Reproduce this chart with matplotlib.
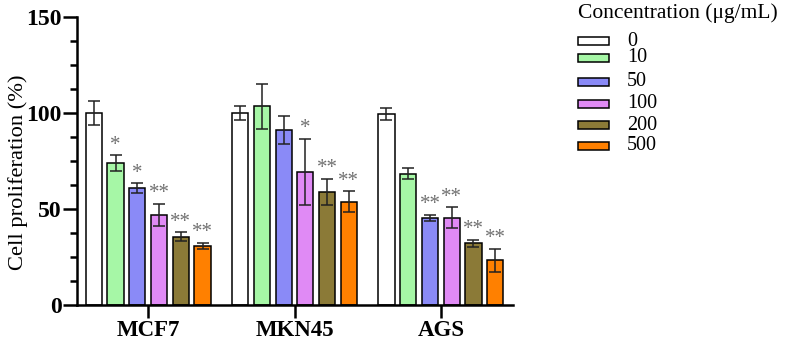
import matplotlib
matplotlib.use("Agg")
import matplotlib.pyplot as plt
from matplotlib.patches import Rectangle
from matplotlib.ticker import MultipleLocator
import numpy as np

cell_lines = ["MCF7", "MKN45", "AGS"]
concentrations = ["0", "10", "50", "100", "200", "500"]
colors = ["#ffffff", "#a6f7a6", "#8a8af7", "#e08af5", "#8b7a37", "#ff8000"]

means = {
    "MCF7":  [100.0, 74.0, 61.0, 47.0, 35.5, 30.7],
    "MKN45": [100.0, 103.5, 91.0, 69.3, 59.0, 53.8],
    "AGS":   [99.5, 68.4, 45.4, 45.4, 32.2, 23.3],
}
errors = {
    "MCF7":  [6.3, 4.0, 2.4, 5.7, 2.4, 1.7],
    "MKN45": [3.8, 11.7, 7.3, 17.3, 6.7, 5.4],
    "AGS":   [2.9, 2.8, 1.7, 5.4, 1.9, 6.1],
}
signif = {
    "MCF7":  ["", "*", "*", "**", "**", "**"],
    "MKN45": ["", "", "", "*", "**", "**"],
    "AGS":   ["", "", "**", "**", "**", "**"],
}

plt.rcParams['font.family'] = ['Liberation Serif', 'DejaVu Serif']

fig = plt.figure(figsize=(7.86, 3.45), dpi=100)
ax = fig.add_axes([0.098, 0.1159, 0.6527 - 0.098, 0.9507 - 0.1159])

pitch = 0.1486
width = 0.11
offsets = (np.arange(len(concentrations)) - 2.5) * pitch
for gi, cl in enumerate(cell_lines):
    for ci in range(len(concentrations)):
        x = gi + offsets[ci]
        m = means[cl][ci]
        e = errors[cl][ci]
        ax.bar(x, m, width=width, color=colors[ci], edgecolor="black", linewidth=1.1, zorder=2)
        ax.errorbar(x, m, yerr=e, fmt="none", ecolor="#222222", elinewidth=1.1,
                    capsize=4.2, capthick=1.1, zorder=3)
        if signif[cl][ci]:
            ax.text(x, m + e + 0.3, signif[cl][ci], ha="center", va="bottom",
                    fontsize=15, color="#707070", zorder=4)

ax.set_xlim(-0.486, 2.493)
ax.set_ylim(0, 150)
ax.set_xticks(range(len(cell_lines)))
ax.set_xticklabels(cell_lines, fontsize=16.5, fontweight="bold")
ax.set_yticks([0, 50, 100, 150])
ax.set_yticklabels(["0", "50", "100", "150"], fontsize=17, fontweight="bold")
ax.yaxis.set_minor_locator(MultipleLocator(12.5))
ax.tick_params(axis="y", which="major", direction="out", length=10, width=1.8, pad=1)
ax.tick_params(axis="y", which="minor", direction="out", length=5, width=1.8)
ax.tick_params(axis="x", which="major", direction="out", length=9, width=1.8, pad=2)
ax.set_ylabel("Cell proliferation (%)", fontsize=16.2)
ax.yaxis.set_label_coords(-0.113, 0.46)
for s in ["top", "right"]:
    ax.spines[s].set_visible(False)
for s in ["left", "bottom"]:
    ax.spines[s].set_linewidth(1.8)

# Legend
W, H = 786.0, 345.0
fig.text(578 / W, 1 - 13 / H, "Concentration (μg/mL)", fontsize=15.5, ha="left", va="center")
entry_y = [41, 58, 82, 104, 125, 146]
for ci, lab in enumerate(concentrations):
    yc = entry_y[ci]
    rect = Rectangle((578 / W, 1 - (yc + 4) / H), 31 / W, 8 / H, transform=fig.transFigure,
                     facecolor=colors[ci], edgecolor="black", linewidth=1.1)
    fig.patches.append(rect)
    fig.text(627 / W, 1 - yc / H, lab, fontsize=14.5, ha="left", va="center")

fig.savefig("out.png", dpi=100)
